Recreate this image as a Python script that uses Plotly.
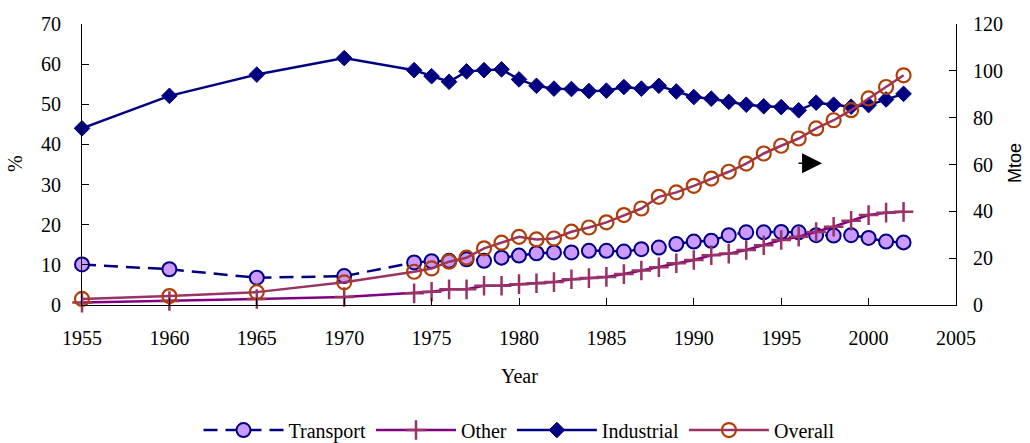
import plotly.graph_objects as go

years = [1955, 1960, 1965, 1970, 1974, 1975, 1976, 1977, 1978, 1979, 1980,
         1981, 1982, 1983, 1984, 1985, 1986, 1987, 1988, 1989, 1990, 1991,
         1992, 1993, 1994, 1995, 1996, 1997, 1998, 1999, 2000, 2001, 2002]

transport = [10.1, 8.9, 6.8, 7.2, 10.6, 10.9, 11.0, 11.4, 11.0, 11.8, 12.3,
             12.9, 13.1, 13.1, 13.5, 13.5, 13.3, 13.9, 14.3, 15.2, 15.8, 16.0,
             17.4, 18.1, 18.1, 18.2, 18.1, 17.4, 17.3, 17.4, 16.7, 15.8, 15.6]

other = [0.6, 1.0, 1.5, 2.0, 2.9, 3.3, 3.9, 3.9, 4.8, 4.8, 5.2,
         5.4, 5.7, 6.4, 6.7, 7.0, 7.7, 8.6, 9.4, 10.4, 11.2, 12.4,
         12.8, 13.7, 14.9, 16.2, 17.0, 18.2, 19.5, 21.0, 22.4, 23.0, 23.2]

industrial = [44.0, 52.1, 57.4, 61.5, 58.5, 57.0, 55.6, 58.2, 58.5, 58.7, 56.2,
              54.6, 53.9, 53.8, 53.3, 53.4, 54.3, 53.9, 54.6, 53.2, 51.8, 51.4,
              50.6, 49.9, 49.5, 49.3, 48.5, 50.4, 49.9, 49.4, 49.8, 51.2, 52.6]

overall_mtoe = [2.6, 3.8, 5.5, 9.7, 14.2, 15.6, 18.5, 20.2, 24.2, 26.6, 29.1,
                28.0, 28.4, 31.3, 33.1, 35.3, 38.4, 41.2, 46.2, 48.1, 50.9, 54.0,
                56.9, 60.4, 64.7, 68.0, 71.1, 75.4, 78.9, 83.2, 88.2, 93.1, 98.1]

x_ticks = [1955, 1960, 1965, 1970, 1975, 1980, 1985, 1990, 1995, 2000, 2005]

SERIF = "Liberation Serif, Times New Roman, serif"
SANS = "Liberation Sans, Arial, sans-serif"
NAVY = "#000080"
MAUVE = "#993366"
RUST = "#B03E08"

fig = go.Figure()

fig.add_trace(go.Scatter(
    x=years, y=transport, name="Transport", mode="lines+markers",
    line=dict(color=NAVY, width=2.5, dash="14px,8px"),
    marker=dict(symbol="circle", size=14, color="#CC99FF",
                line=dict(color=NAVY, width=2)),
    cliponaxis=False))

fig.add_trace(go.Scatter(
    x=years, y=other, name="Other", mode="lines+markers",
    line=dict(color="#800080", width=2.5),
    marker=dict(symbol="cross-thin", size=14, color=MAUVE,
                line=dict(color=MAUVE, width=2.5)),
    cliponaxis=False))

fig.add_trace(go.Scatter(
    x=years, y=industrial, name="Industrial", mode="lines+markers",
    line=dict(color=NAVY, width=2.5),
    marker=dict(symbol="diamond", size=12, color=NAVY,
                line=dict(color=NAVY, width=1)),
    cliponaxis=False))

fig.add_trace(go.Scatter(
    x=years, y=overall_mtoe, name="Overall", mode="lines+markers",
    yaxis="y2",
    line=dict(color=MAUVE, width=2.5),
    marker=dict(symbol="circle-open", size=14, color=RUST,
                line=dict(color=RUST, width=2.2)),
    cliponaxis=False))

axis_common = dict(showgrid=False, zeroline=False, showline=True,
                   linecolor="black", linewidth=1, ticks="inside",
                   ticklen=7, tickcolor="black", tickwidth=1,
                   automargin=False,
                   tickfont=dict(family=SERIF, size=20, color="black"))

fig.update_layout(
    width=1030, height=443,
    margin=dict(l=82, r=74, t=24, b=138, autoexpand=False),
    paper_bgcolor="white", plot_bgcolor="white",
    font=dict(family=SERIF, size=20, color="black"),
    xaxis=dict(range=[1955, 2005], tickvals=x_ticks,
               ticklabelstandoff=15, **axis_common),
    yaxis=dict(range=[0, 70], dtick=10, ticklabelstandoff=16, **axis_common),
    yaxis2=dict(range=[0, 120], dtick=20, overlaying="y", side="right",
                ticklabelstandoff=12, **axis_common),
    showlegend=True,
    legend=dict(orientation="h", x=0.5, xanchor="center",
                y=-0.445, yanchor="middle",
                font=dict(family=SERIF, size=20, color="black"),
                itemwidth=80, bgcolor="rgba(0,0,0,0)"),
    annotations=[
        dict(text="%", x=-0.0767, y=0.505, xref="paper", yref="paper",
             xanchor="center", yanchor="middle",
             showarrow=False, textangle=-90,
             font=dict(family=SERIF, size=20, color="black")),
        dict(text="Mtoe", x=1.0675, y=0.505, xref="paper", yref="paper",
             xanchor="center", yanchor="middle",
             showarrow=False, textangle=-90,
             font=dict(family=SANS, size=18, color="black")),
        dict(text="Year", x=0.5, y=-0.2527, xref="paper", yref="paper",
             xanchor="center", yanchor="middle",
             showarrow=False,
             font=dict(family=SERIF, size=20, color="black")),
        dict(text="", x=1997.34, y=35.3, xref="x", yref="y",
             showarrow=True, arrowhead=2, arrowsize=2.67, arrowwidth=1.5,
             arrowcolor="black", ax=-25, ay=0),
    ],
)

fig.write_html("out.html",
               config={"displayModeBar": False},
               post_script="document.body.style.margin='0';"
                           "document.body.style.overflow='hidden';")
